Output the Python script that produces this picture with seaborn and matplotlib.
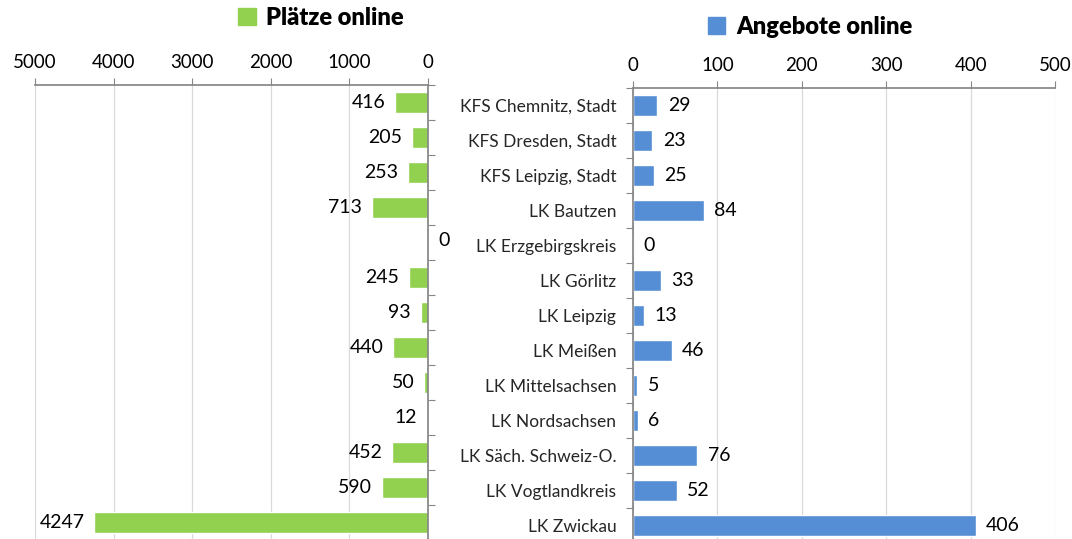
import numpy as np
import pandas as pd
import matplotlib
matplotlib.use("Agg")
import matplotlib.pyplot as plt
from matplotlib.patches import Patch
import seaborn as sns

categories = ["KFS Chemnitz, Stadt", "KFS Dresden, Stadt", "KFS Leipzig, Stadt",
              "LK Bautzen", "LK Erzgebirgskreis", "LK Görlitz", "LK Leipzig",
              "LK Meißen", "LK Mittelsachsen", "LK Nordsachsen",
              "LK Säch. Schweiz-O.", "LK Vogtlandkreis", "LK Zwickau"]
plaetze = [416, 205, 253, 713, 0, 245, 93, 440, 50, 12, 452, 590, 4247]
angebote = [29, 23, 25, 84, 0, 33, 13, 46, 5, 6, 76, 52, 406]
left_ticks = [0, 1000, 2000, 3000, 4000, 5000]
right_ticks = [0, 100, 200, 300, 400, 500]

GREEN = "#92D050"
BLUE = "#558ED5"
GRID = "#D9D9D9"
AXC = "#868686"
TXT = "#000000"
CATC = "#262626"

sns.set_theme(style="white")
plt.rcParams['font.family'] = ['Lato', 'DejaVu Sans']
plt.rcParams['text.color'] = TXT

df = pd.DataFrame({"cat": categories, "p": plaetze, "a": angebote})

W, H = 1072, 539
fig = plt.figure(figsize=(W / 100, H / 100), dpi=100)

def frac_box(x0, x1, ytop, ybot):
    return [x0 / W, 1 - ybot / H, (x1 - x0) / W, (ybot - ytop) / H]

axL = fig.add_axes(frac_box(35, 428, 85, 540))
axR = fig.add_axes(frac_box(633, 1055, 88, 543))

n = len(categories)

def style(ax, ticks, lim, side):
    ax.set_xlim(*lim)
    ax.set_xticks(ticks)
    ax.set_xticklabels([str(t) for t in ticks], fontsize=13.5, color=TXT)
    ax.xaxis.set_ticks_position("top")
    ax.xaxis.set_label_position("top")
    ax.tick_params(axis="x", which="major", length=5, color=AXC, width=0.8,
                   pad=5, top=True, bottom=False, labeltop=True, labelbottom=False)
    ax.set_ylim(n - 0.5, -0.5)
    ax.grid(axis="x", color=GRID, linewidth=0.9)
    ax.set_axisbelow(True)
    for s in ax.spines.values():
        s.set_visible(False)
    ax.spines["top"].set_visible(True)
    ax.spines["top"].set_color(AXC)
    ax.spines[side].set_visible(True)
    ax.spines[side].set_color(AXC)
    ax.set_xlabel("")
    ax.set_ylabel("")
    ax.set_yticks(np.arange(-0.5, n, 1), minor=True)

# Left chart
sns.barplot(data=df, x="p", y="cat", orient="h", color=GREEN, width=0.58,
            saturation=1, ax=axL)
style(axL, left_ticks, (5000, 0), "right")
axL.set_yticks(range(n))
axL.set_yticklabels([])
axL.tick_params(axis="y", which="major", length=0)
axL.tick_params(axis="y", which="minor", length=5, color=AXC, width=0.8,
                left=False, right=True)
for i, v in enumerate(plaetze):
    if v == 0:
        axL.annotate(str(v), xy=(v, i - 0.05), xytext=(7.5, 0), textcoords="offset points",
                     ha="left", va="center", fontsize=14, color=TXT)
    else:
        axL.annotate(str(v), xy=(v, i), xytext=(-7, 0), textcoords="offset points",
                     ha="right", va="center", fontsize=14, color=TXT)

# Right chart
sns.barplot(data=df, x="a", y="cat", orient="h", color=BLUE, width=0.58,
            saturation=1, ax=axR)
style(axR, right_ticks, (0, 500), "left")
axR.set_yticks(range(n))
axR.set_yticklabels(categories, fontsize=12.5, color=CATC)
axR.tick_params(axis="y", which="major", length=0, pad=12)
axR.tick_params(axis="y", which="minor", length=5, color=AXC, width=0.8,
                left=True, right=False)
for i, v in enumerate(angebote):
    axR.annotate(str(v), xy=(v, i), xytext=(7.5, 0), textcoords="offset points",
                 ha="left", va="center", fontsize=14, color=TXT)

# Legends
fig.legend(handles=[Patch(color=GREEN)], labels=["Plätze online"],
           loc="center", bbox_to_anchor=(321 / W, 1 - 18 / H), frameon=False,
           prop={"weight": "heavy", "size": 17}, handlelength=0.75,
           handleheight=0.75, handletextpad=0.45, borderpad=0)
fig.legend(handles=[Patch(color=BLUE)], labels=["Angebote online"],
           loc="center", bbox_to_anchor=(810 / W, 1 - 27 / H), frameon=False,
           prop={"weight": "heavy", "size": 17}, handlelength=0.75,
           handleheight=0.75, handletextpad=0.45, borderpad=0)

fig.savefig("out.png", dpi=100)
